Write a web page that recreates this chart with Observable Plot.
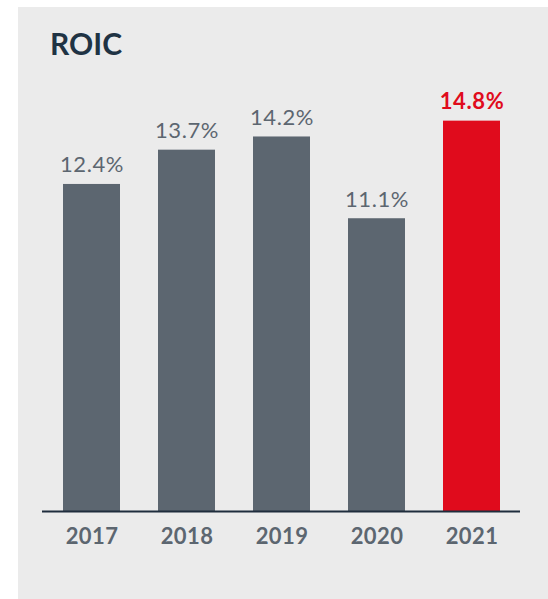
<!DOCTYPE html>
<html>
<head>
<meta charset="utf-8">
<script src="https://cdn.jsdelivr.net/npm/d3@7"></script>
<script src="https://cdn.jsdelivr.net/npm/@observablehq/plot@0.6"></script>
<style>
  html, body { margin: 0; padding: 0; background: #ffffff; }
  #panel { position: absolute; left: 18px; top: 7px; width: 530px; height: 592px; background: #ebebeb; overflow: hidden; }
  #title { position: absolute; left: 32px; top: 21px; margin: 0; font-family: Lato, sans-serif; font-weight: 700; font-size: 30px; line-height: 30px; color: #1f3344; }
  #chart { position: absolute; left: 0; top: 0; }
  .vlabel text { letter-spacing: 0.6px; }
  .xlabel text { letter-spacing: 0.4px; }
</style>
</head>
<body>
<div id="panel">
  <div id="chart"></div>
  <h2 id="title">ROIC</h2>
</div>
<script>
const years = ["2017", "2018", "2019", "2020", "2021"];
const roic = [12.4, 13.7, 14.2, 11.1, 14.8];
const highlightYear = "2021";

const data = years.map((year, i) => ({year, value: roic[i], highlight: year === highlightYear}));
const gray = "#5c6670";
const red = "#e00b1c";

const chart = Plot.plot({
  width: 530,
  height: 592,
  marginLeft: 24,
  marginRight: 28,
  marginTop: 82,
  marginBottom: 88,
  style: {fontFamily: "Lato, sans-serif", background: "transparent", color: gray},
  x: {domain: years, paddingInner: 0.404, paddingOuter: 0.2, label: null},
  y: {domain: [0, 16], axis: null},
  marks: [
    Plot.barY(data, {x: "year", y: "value", fill: d => d.highlight ? red : gray}),
    Plot.ruleY([0], {stroke: "#1f2d3d", strokeWidth: 2}),
    Plot.text(data.filter(d => !d.highlight), {x: "year", y: "value", text: d => d.value.toFixed(1) + "%", lineAnchor: "bottom", dy: -12, fontSize: 22, fill: gray, className: "vlabel"}),
    Plot.text(data.filter(d => d.highlight), {x: "year", y: "value", text: d => d.value.toFixed(1) + "%", lineAnchor: "bottom", dy: -12, fontSize: 22, fontWeight: "bold", fill: red, className: "vlabel"}),
    Plot.axisX({tickSize: 0, tickPadding: 17, fontSize: 22, fontWeight: "bold", fill: gray, label: null, className: "xlabel"})
  ]
});
document.getElementById("chart").appendChild(chart);
</script>
</body>
</html>
